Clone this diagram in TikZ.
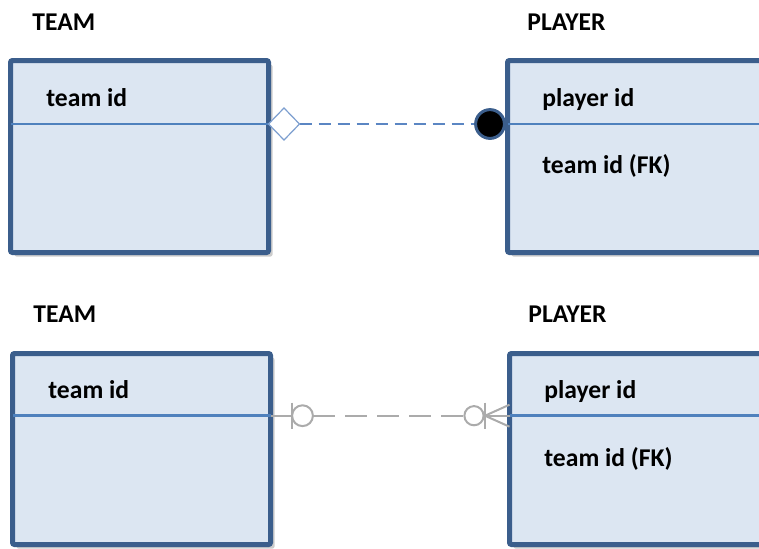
\documentclass[tikz,border=0pt]{standalone}
\usepackage{fontspec}
\setmainfont{Carlito}
\usetikzlibrary{shadows,calc}

\definecolor{boxline}{HTML}{3B5E8C}
\definecolor{boxfill}{HTML}{DCE6F2}
\definecolor{divline}{HTML}{4F81BD}
\definecolor{relline}{HTML}{5B86C3}
\definecolor{optline}{HTML}{ABABAB}

\tikzset{
  entity/.style={draw=boxline, line width=2.5pt, fill=boxfill, rounded corners=1pt,
    anchor=north west, outer sep=0pt, inner sep=0pt, minimum width=129pt,
    drop shadow={shadow xshift=2pt, shadow yshift=-2pt, opacity=0.4}},
  title/.style={anchor=base west, inner sep=0pt, font=\fontsize{12.8}{15}\selectfont\bfseries},
  field/.style={title},
  divider/.style={draw=divline, line width=1.3pt},
  relline/.style={draw=relline, line width=1pt, dash pattern=on 6pt off 3.5pt},
  optline/.style={draw=optline, line width=1pt}
}

\begin{document}
\begin{tikzpicture}[x=0.5pt,y=-0.5pt]
  \clip (0,0) rectangle (759,548);
  % upper pair
  \node[title] (t1) at (32,30) {TEAM};
  \node[title] (p1) at (527,30) {PLAYER};
  \node[entity,minimum height=96pt] (team1) at (10.5,60.5) {};
  \node[entity,minimum height=96pt] (player1) at (507.5,60.5) {};
  \coordinate (a0) at (team1.west |- 0,124);\coordinate (a1) at (team1.east |- 0,124);
  \coordinate (a2) at (player1.west |- 0,124);\coordinate (a3) at (player1.east |- 0,124);
  \draw[divider](a0)--(a1);\draw[divider](a2)--(a3);
  \node[field] (tid1) at (46,106) {team id};
  \node[field] (pid1) at (542,106) {player id};
  \node[field] (fk1) at (542,173) {team id (FK)};
  \draw[relline] ($(a1)+(31,0)$) -- ($(a2)+(-32,0)$);
  \draw[draw=relline!80, line width=0.6pt, fill=white] (a1) -- ++(15.5,-16) -- ++(15.5,16) -- ++(-15.5,16) -- cycle;
  \draw[draw=boxline, line width=1.5pt, fill=black] ($(a2)+(-17.5,0)$) circle[radius=7.2pt];
  % lower pair
  \node[title] (t2) at (33,322) {TEAM};
  \node[title] (p2) at (528,322) {PLAYER};
  \node[entity,minimum height=95.5pt] (team2) at (12.5,353.5) {};
  \node[entity,minimum height=95.5pt] (player2) at (509.5,353.5) {};
  \coordinate (b0) at (team2.west |- 0,415.7);\coordinate (b1) at (team2.east |- 0,415.7);
  \coordinate (b2) at (player2.west |- 0,415.7);\coordinate (b3) at (player2.east |- 0,415.7);
  \draw[divider](b0)--(b1);\draw[divider](b2)--(b3);
  \node[field] (tid2) at (48,398) {team id};
  \node[field] (pid2) at (544,398) {player id};
  \node[field] (fk2) at (544,466) {team id (FK)};
  \draw[optline] (b1) -- ++(21.5,0) ++(0,-13) -- ++(0,26);
  \draw[optline] ($(b1)+(32,0)$) circle[radius=5.2pt];
  \draw[optline, dash pattern=on 11pt off 5pt] ($(b1)+(42.5,0)$) -- ($(b2)+(-45,0)$);
  \draw[optline] ($(b2)+(-35.5,0)$) circle[radius=4.8pt];
  \draw[optline] ($(b2)+(-24.5,-13)$) -- ++(0,26);
  \draw[optline] ($(b2)+(0,-11)$) -- ($(b2)+(-24.5,0)$) -- ($(b2)+(0,11)$);
  \draw[optline] ($(b2)+(-24.5,0)$) -- (b2);
\end{tikzpicture}
\end{document}
